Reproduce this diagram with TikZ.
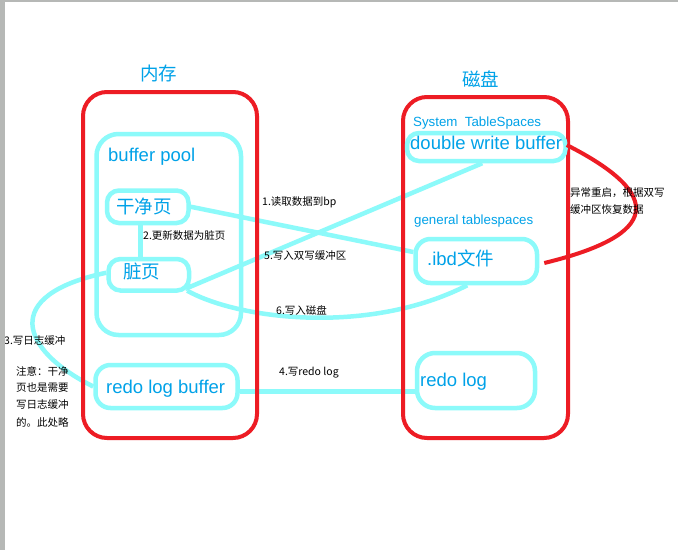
\documentclass[tikz,border=0pt]{standalone}
\usepackage{fontspec}
\setmainfont{Liberation Sans}
\newfontfamily\cjk{Noto Sans CJK SC}
\usetikzlibrary{calc}
\definecolor{pred}{RGB}{237,28,36}
\definecolor{pcyan}{RGB}{140,250,250}
\definecolor{pblue}{RGB}{0,162,232}
\definecolor{pgray}{RGB}{182,184,182}
\pgfdeclarelayer{behind}
\pgfdeclarelayer{paper}
\pgfsetlayers{paper,behind,main}
\begin{document}
\begin{tikzpicture}[x=1pt,y=-1pt,
  redbox/.style={draw=pred,line width=4pt,rounded corners=24pt,inner sep=0pt},
  cyanbox/.style={draw=pcyan,line width=4.5pt,inner sep=0pt},
  link/.style={draw=pcyan,line width=4.5pt},
  redlink/.style={draw=pred,line width=4pt},
  bigblue/.style={text=pblue,inner sep=0pt,font=\fontsize{18.5}{20}\selectfont},
  bigcjk/.style={text=pblue,inner sep=0pt,font=\cjk\fontsize{18.5}{20}\selectfont},
  smallblue/.style={text=pblue,inner sep=0pt,font=\fontsize{13.3}{15}\selectfont},
  note/.style={text=black,inner sep=0pt,anchor=west,font=\cjk\fontsize{10.5}{17}\selectfont},
]
\useasboundingbox (0,0) rectangle (678,550);
\begin{pgfonlayer}{paper}
\fill[white] (0,0) rectangle (678,550);
\end{pgfonlayer}

% outer boxes
\node[redbox, minimum width=174pt, minimum height=346pt] (mem) at (170,265) {};
\node[redbox, minimum width=165pt, minimum height=341pt] (disk) at (485.5,267.5) {};

% titles
\node[bigcjk] (memt) at (158.5,73) {内存};
\node[bigcjk] (diskt) at (480.5,79) {磁盘};

% memory side boxes
\node[cyanbox, rounded corners=22pt, minimum width=144.5pt, minimum height=201pt] (bp) at (168.75,234.5) {};
\node[bigblue, anchor=base west] (bpt) at (108,161) {buffer pool};
\node[cyanbox, rounded corners=12pt, minimum width=81.5pt, minimum height=32.5pt] (clean) at (147.75,206.75) {};
\node[bigcjk] (cleant) at (144,206) {干净页};
\node[cyanbox, rounded corners=12pt, minimum width=80.5pt, minimum height=31.5pt] (dirty) at (148.75,274.75) {};
\node[bigcjk] (dirtyt) at (141.5,271.5) {脏页};
\node[cyanbox, rounded corners=15pt, minimum width=142pt, minimum height=43pt] (rlb) at (166.5,386.5) {};
\node[bigblue, anchor=base west] (rlbt) at (106,393) {redo log buffer};

% disk side boxes
\node[smallblue, anchor=base west] (syst) at (413,126) {System\ \ TableSpaces};
\node[cyanbox, rounded corners=12pt, minimum width=158.5pt, minimum height=28pt] (dwb) at (486.25,147) {};
\node[bigblue, anchor=base west] (dwbt) at (410,149) {double write buffer};
\node[smallblue, anchor=base west] (gent) at (414,224) {general tablespaces};
\node[cyanbox, rounded corners=15pt, minimum width=121.5pt, minimum height=44pt] (ibd) at (476.25,261) {};
\node[bigblue, anchor=base west] (ibdt) at (427,265) {.ibd{\cjk 文件}};
\node[cyanbox, rounded corners=18pt, minimum width=118pt, minimum height=55pt] (rl) at (476,380.5) {};
\node[bigblue, anchor=base west] (rlt) at (420,386) {redo log};

% connectors
\begin{pgfonlayer}{behind}
\draw[link] (clean.east) -- ($(ibd.west)+(0,-9)$);
\draw[link] (clean.south) ++(-7.5,0) coordinate (c2) (c2) -- (c2 |- dirty.north);
\draw[link] ($(dirty.south east)+(0,-8)$) -- ($(dirty.south east)+(-1,-6)$) -- ($(dwb.south)+(-4,0)$);
\draw[link] ($(dirty.south east)+(-4,-2)$) .. controls (240,320) and (370,335) .. ($(ibd.south)+(-9,0)$);
\draw[link] ($(rlb.east)+(0,5)$) -- ($(rl.west)+(0,11)$);
\draw[link] ($(dirty.west)+(0,-2)$) .. controls (0,295) and (20,350) .. (rlb.west);
\end{pgfonlayer}
\draw[redlink] ($(dwb.east)+(-1,-2)$) .. controls (665,195) and (660,235) .. ($(ibd.east)+(5,2)$);

% labels
\node[note] (l1) at (262,202) {1.读取数据到bp};
\node[note] (l2) at (143,236) {2.更新数据为脏页};
\node[note] (l5) at (264,256) {5.写入双写缓冲区};
\node[note] (l6) at (276,310) {6.写入磁盘};
\node[note] (l4) at (279,373) {4.写redo log};
\node[note] (l3) at (4,341) {3.写日志缓冲};
\node[note] (n1) at (16,371) {注意：干净};
\node[note] (n2) at (16,388) {页也是需要};
\node[note] (n3) at (16,405) {写日志缓冲};
\node[note] (n4) at (16,422) {的。此处略};
\node[note] (r1) at (570,193) {异常重启，根据双写};
\node[note] (r2) at (570,210) {缓冲区恢复数据};

% window frame
\fill[pgray] (0,0) rectangle (678,2);
\fill[pgray] (0,0) rectangle (5,550);
\end{tikzpicture}
\end{document}
